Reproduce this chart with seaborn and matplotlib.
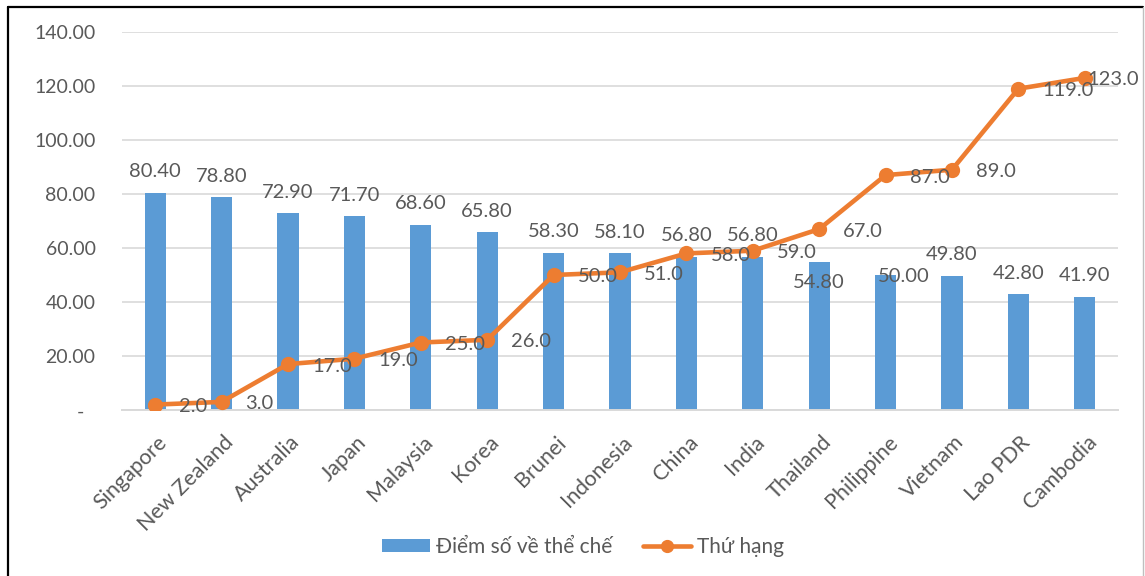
import numpy as np
import pandas as pd
import seaborn as sns
import matplotlib.pyplot as plt
import matplotlib.transforms as mtransforms
from matplotlib.lines import Line2D
from matplotlib.patches import Patch

# Institutional score and global rank by country
countries = ["Singapore", "New Zealand", "Australia", "Japan", "Malaysia", "Korea",
             "Brunei", "Indonesia", "China", "India", "Thailand", "Philippine",
             "Vietnam", "Lao PDR", "Cambodia"]
scores = [80.40, 78.80, 72.90, 71.70, 68.60, 65.80, 58.30, 58.10, 56.80, 56.80,
          54.80, 50.00, 49.80, 42.80, 41.90]
ranks = [2, 3, 17, 19, 25, 26, 50, 51, 58, 59, 67, 87, 89, 119, 123]
y_ticks = [0, 20, 40, 60, 80, 100, 120, 140]
series_names = ["Điểm số về thể chế", "Thứ hạng"]

BLUE = "#5B9BD5"
ORANGE = "#ED7D31"
TEXT = "#595959"
GRID = "#D9D9D9"

sns.set_theme(style="white")
plt.rcParams["font.family"] = ["Lato", "Open Sans", "DejaVu Sans"]

W, H = 1145, 576
fig = plt.figure(figsize=(W / 100, H / 100), dpi=100)
ax = fig.add_axes([122 / W, 1 - 410 / H, (1118 - 122) / W, (410 - 32) / H])

df = pd.DataFrame({"country": countries, "score": scores, "rank": ranks})

sns.barplot(data=df, x="country", y="score", color=BLUE, saturation=1,
            width=0.32, linewidth=0, ax=ax)
sns.pointplot(data=df, x="country", y="rank", color=ORANGE, errorbar=None,
              markers="o", markersize=8.5, linewidth=3.3, ax=ax)
for ln in ax.lines:
    ln.set_zorder(4)
    ln.set_solid_capstyle("round")

ax.set_xlabel("")
ax.set_ylabel("")
ax.set_ylim(0, 140)
ax.set_xlim(-0.5, len(countries) - 0.5)
ax.set_yticks(y_ticks)
ax.yaxis.set_major_formatter(plt.FuncFormatter(lambda v, _: "" if v == 0 else f"{v:.2f}"))
ax.yaxis.grid(True, color=GRID, linewidth=1.2)
ax.set_axisbelow(True)
for side in ["left", "right", "top"]:
    ax.spines[side].set_visible(False)
ax.spines["bottom"].set_color(GRID)
ax.spines["bottom"].set_linewidth(1.4)

ax.tick_params(axis="y", length=0, pad=19, labelsize=14, labelcolor=TEXT)
ax.tick_params(axis="x", length=0, pad=21, labelsize=15.5, labelcolor=TEXT)
shift = mtransforms.ScaledTranslation(9 / 100, 0, fig.dpi_scale_trans)
for lbl in ax.get_xticklabels():
    lbl.set_rotation(45)
    lbl.set_ha("right")
    lbl.set_va("center")
    lbl.set_rotation_mode("anchor")
    lbl.set_transform(lbl.get_transform() + shift)

# zero tick shown as a dash (accounting style)
fig.text(80 / W, 1 - 412 / H, "-", ha="center", va="center", fontsize=14, color=TEXT)

# value labels on bars
bar_offsets = {10: (0, -20), 11: (18, -2)}
for i, v in enumerate(scores):
    dx, dy = bar_offsets.get(i, (0, 21))
    ax.annotate(f"{v:.2f}", (i, v), xytext=(dx, dy), textcoords="offset pixels",
                ha="center", va="center", fontsize=14.5, color=TEXT, zorder=5)

# rank labels to the right of each point
rank_offsets = {14: (3, -2)}
for i, r in enumerate(ranks):
    dx, dy = rank_offsets.get(i, (24, -2))
    ax.annotate(f"{r:.1f}", (i, r), xytext=(dx, dy), textcoords="offset pixels",
                ha="left", va="center", fontsize=14.5, color=TEXT, zorder=5,
                annotation_clip=False)

handles = [Patch(facecolor=BLUE, edgecolor="none"),
           Line2D([0], [0], color=ORANGE, lw=3.3, marker="o", markersize=8.5)]
fig.legend(handles, series_names, loc="center", bbox_to_anchor=(583 / W, 1 - 547 / H),
           ncol=2, frameon=False, fontsize=15, handlelength=2.3, handleheight=0.55,
           handletextpad=0.3, columnspacing=1.5, labelcolor=TEXT)

# chart frame
top = 1 - 7 / H
fig.add_artist(Line2D([8 / W, 8 / W], [0, top], transform=fig.transFigure, color="black", lw=1.6))
fig.add_artist(Line2D([8 / W, 1143 / W], [top, top], transform=fig.transFigure, color="black", lw=1.6))
fig.add_artist(Line2D([1143 / W, 1143 / W], [0, top], transform=fig.transFigure, color="#BFBFBF", lw=1))

fig.savefig("out.png", dpi=100)
